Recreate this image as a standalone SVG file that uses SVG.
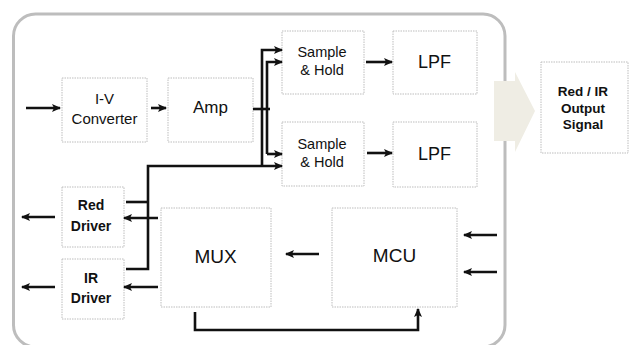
<svg xmlns="http://www.w3.org/2000/svg" width="629" height="345" viewBox="0 0 629 345">
<style>
.box{fill:#fff;stroke:#bdbdbd;stroke-width:1;stroke-dasharray:1.5 1}
.t{font-family:"Liberation Sans",Arial,sans-serif;fill:#111;text-anchor:middle}
.b{font-weight:bold}
.c{fill:none;stroke:#111;stroke-width:2.6}
.a{marker-end:url(#ah)}
</style>
<defs>
<marker id="ah" markerUnits="userSpaceOnUse" markerWidth="9" markerHeight="8" refX="8" refY="4" orient="auto">
<path d="M0,0 L9,4 L0,8 L2,4 z" fill="#111"/>
</marker>
</defs>
<rect width="629" height="345" fill="#fff"/>
<rect id="frame" x="13.5" y="14" width="491.5" height="333" rx="22" fill="#fff" stroke="#bdbdbd" stroke-width="3"/>
<g id="bigarrow"><path d="M494,81 H515 V72 L535,111 L515,152 V141 H494 z" fill="#efede4"/></g>

<g id="iv"><rect class="box" x="62" y="78" width="85" height="64"/><text class="t" x="104.5" y="104" font-size="15">I-V</text><text class="t" x="104.5" y="124" font-size="15">Converter</text></g>
<g id="amp"><rect class="box" x="168" y="78" width="85" height="64"/><text class="t" x="210.5" y="113" font-size="17">Amp</text></g>
<g id="sh1"><rect class="box" x="282" y="31" width="82" height="63"/><text class="t" x="322" y="57" font-size="14.5">Sample</text><text class="t" x="322" y="75" font-size="14.5">&amp; Hold</text></g>
<g id="sh2"><rect class="box" x="282" y="122" width="82" height="64"/><text class="t" x="322" y="149" font-size="14.5">Sample</text><text class="t" x="322" y="167" font-size="14.5">&amp; Hold</text></g>
<g id="lpf1"><rect class="box" x="393" y="31" width="84" height="63"/><text class="t" x="434.5" y="68" font-size="18">LPF</text></g>
<g id="lpf2"><rect class="box" x="393" y="122" width="84" height="65"/><text class="t" x="434.5" y="160" font-size="18">LPF</text></g>
<g id="out"><rect class="box" x="541" y="62" width="87" height="91"/><text class="t b" x="583" y="96" font-size="13.5">Red / IR</text><text class="t b" x="583" y="112.5" font-size="13.5">Output</text><text class="t b" x="583" y="129" font-size="13.5">Signal</text></g>
<g id="red"><rect class="box" x="62" y="187" width="62" height="60"/><text class="t b" x="91" y="210" font-size="14">Red</text><text class="t b" x="91" y="231" font-size="14">Driver</text></g>
<g id="ir"><rect class="box" x="62" y="259" width="62" height="60"/><text class="t b" x="91" y="283" font-size="14">IR</text><text class="t b" x="91" y="303" font-size="14">Driver</text></g>
<g id="mux"><rect class="box" x="161" y="208" width="110" height="99"/><text class="t" x="215.5" y="263" font-size="19">MUX</text></g>
<g id="mcu"><rect class="box" x="332" y="208" width="125" height="99"/><text class="t" x="394.5" y="262" font-size="19">MCU</text></g>

<g id="connectors">
<path class="c a" stroke-width="2" d="M26,108 H60"/>
<path class="c a" d="M151,108 H166"/>
<path class="c" d="M253,109 H270"/>
<path class="c a" d="M262,166 V50 H282"/>
<path class="c a" d="M267,154 V62 H282"/>
<path class="c a" d="M267,154 H282"/>
<path class="c" d="M126,202 H148"/>
<path class="c a" d="M126,269 H148 V166 H282"/>
<path class="c a" d="M366,62 H392"/>
<path class="c a" d="M367,153 H392"/>
<path class="c a" d="M158,218 H124"/>
<path class="c a" stroke="#333" d="M158,287 H124"/>
<path class="c a" d="M55,217 H22"/>
<path class="c a" d="M55,287 H22"/>
<path class="c a" d="M319,254 H286"/>
<path class="c a" d="M497,235 H464"/>
<path class="c a" d="M497,272 H464"/>
<path class="c a" d="M195,312 V330 H418 V309"/>
</g>
</svg>
